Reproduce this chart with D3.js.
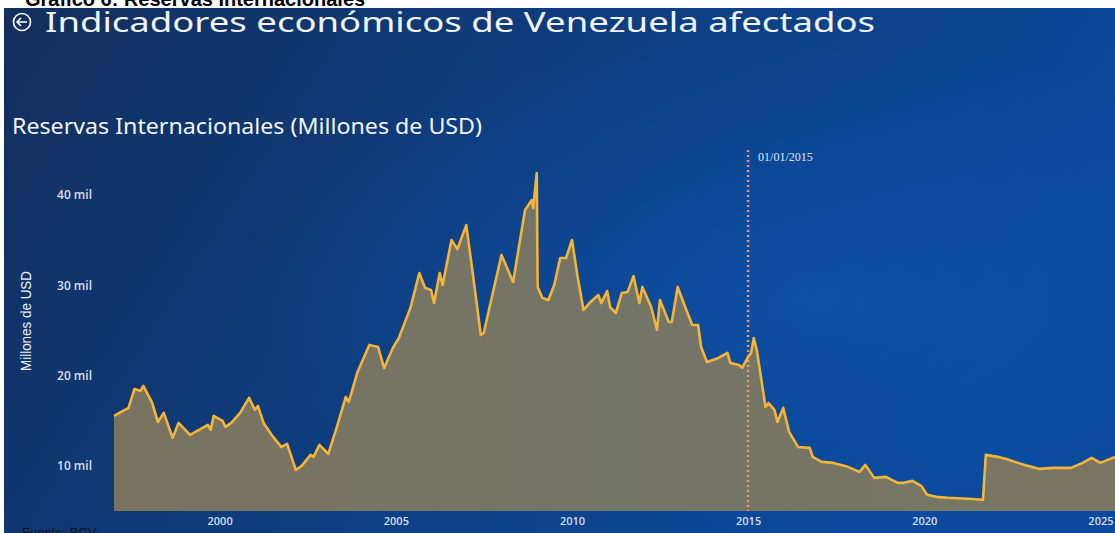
<!DOCTYPE html>
<html>
<head>
<meta charset="utf-8">
<script src="https://cdn.jsdelivr.net/npm/d3@7"></script>
<style>
  html, body { margin: 0; padding: 0; background: #fff; }
  svg { display: block; }
</style>
</head>
<body>
<svg id="chart" width="1115" height="533"></svg>
<script>
// Reservas internacionales BCV, millones de USD
const dates = [
  "1997-01-01","1997-06-01","1997-08-01","1997-10-01","1997-11-01","1998-02-01","1998-04-01","1998-06-01",
  "1998-09-01","1998-11-01","1999-03-01","1999-09-01","1999-10-01","1999-11-01","2000-02-01","2000-03-01",
  "2000-05-01","2000-08-01","2000-11-01","2001-01-01","2001-02-01","2001-04-01","2001-07-01","2001-10-01",
  "2001-12-01","2002-03-01","2002-05-01","2002-08-01","2002-09-01","2002-11-01","2003-02-01","2003-05-01",
  "2003-08-01","2003-09-01","2003-12-01","2004-04-01","2004-07-01","2004-09-01","2004-12-01","2005-02-01",
  "2005-06-01","2005-09-01","2005-11-01","2006-01-01","2006-02-01","2006-04-01","2006-05-01","2006-08-01",
  "2006-10-01","2007-01-01","2007-03-01","2007-06-01","2007-07-01","2008-01-01","2008-05-01","2008-09-01",
  "2008-11-10","2008-11-25","2009-01-01","2009-01-10","2009-03-01","2009-05-01","2009-07-01","2009-09-01",
  "2009-11-01","2010-01-01","2010-03-01","2010-05-01","2010-07-01","2010-10-01","2010-11-01","2011-01-01",
  "2011-02-01","2011-04-01","2011-06-01","2011-08-01","2011-10-01","2011-12-01","2012-01-01","2012-04-01",
  "2012-06-01","2012-07-01","2012-10-01","2012-11-01","2013-01-01","2013-04-01","2013-06-01","2013-08-01",
  "2013-09-01","2013-11-01","2014-03-01","2014-06-01","2014-07-01","2014-10-01","2014-11-01","2015-01-01",
  "2015-02-01","2015-03-01","2015-04-01","2015-07-01","2015-08-01","2015-10-01","2015-11-01","2016-01-01",
  "2016-03-01","2016-06-01","2016-10-01","2016-11-01","2017-02-01","2017-06-01","2017-11-01","2018-03-01",
  "2018-05-01","2018-08-01","2018-12-01","2019-04-01","2019-06-01","2019-09-01","2019-12-01","2020-02-01",
  "2020-05-01","2020-09-01","2021-04-01","2021-09-01","2021-10-01","2022-02-01","2022-05-01","2022-10-01",
  "2023-04-01","2023-09-01","2024-03-01","2024-07-01","2024-10-01","2025-01-01","2025-06-01"
];
const reservas = [
  15540,16420,18520,18300,18860,16970,14870,15870,
  13100,14760,13430,14540,13990,15540,14980,14320,
  14760,15870,17530,16200,16640,14760,13320,12100,
  12440,9560,10000,11220,11000,12320,11330,14320,
  17640,17090,20410,23400,23170,20850,23060,24170,
  27490,31370,29710,29480,28040,31370,30040,35020,
  34020,36680,32030,24500,24720,33360,30370,38340,
  39450,38560,42440,29820,28600,28380,30040,33030,
  33030,35020,30920,27270,28040,28930,28040,29370,
  27600,26940,29150,29260,31030,28040,29820,27600,
  25060,28380,25940,25940,29820,27270,25610,25610,
  23170,21510,21960,22510,21400,21180,20850,22070,
  22510,24170,22840,16530,16970,16200,14870,16420,
  13760,12100,11990,11000,10440,10330,9890,9340,
  10110,8670,8780,8120,8120,8340,7790,6790,
  6570,6460,6350,6240,11220,11000,10770,10220,
  9670,9780,9780,10330,10890,10330,11000
];
const yTicks = [10000, 20000, 30000, 40000];
const xTickYears = [2000, 2005, 2010, 2015, 2020, 2025];
const markerDate = "2015-01-01";
const markerLabel = "01/01/2015";

const parse = d3.timeParse("%Y-%m-%d");
const series = dates.map((d, i) => ({ date: parse(d), value: reservas[i] }));

const svg = d3.select("#chart");
const W = 1115, H = 533;

// fondo
const defs = svg.append("defs");
const bg = defs.append("linearGradient").attr("id", "bg").attr("x1", 0).attr("x2", 1).attr("y1", 0).attr("y2", 0.3);
bg.append("stop").attr("offset", "0%").attr("stop-color", "#132f5c");
bg.append("stop").attr("offset", "45%").attr("stop-color", "#0e3c7c");
bg.append("stop").attr("offset", "100%").attr("stop-color", "#0a4a9c");

const glow = defs.append("radialGradient").attr("id", "glow").attr("cx", 0.72).attr("cy", 0.55).attr("r", 0.5);
glow.append("stop").attr("offset", "0%").attr("stop-color", "#0d55b0").attr("stop-opacity", 0.6);
glow.append("stop").attr("offset", "100%").attr("stop-color", "#0d55b0").attr("stop-opacity", 0);

const fillGrad = defs.append("linearGradient").attr("id", "areaFill").attr("x1", 0).attr("x2", 1);
fillGrad.append("stop").attr("offset", "0%").attr("stop-color", "#7a7360");
fillGrad.append("stop").attr("offset", "50%").attr("stop-color", "#737567");
fillGrad.append("stop").attr("offset", "100%").attr("stop-color", "#7a7663");

svg.append("rect").attr("x", 4).attr("y", 8).attr("width", W - 4).attr("height", H - 8).attr("fill", "url(#bg)");
svg.append("rect").attr("x", 4).attr("y", 8).attr("width", W - 4).attr("height", H - 8).attr("fill", "url(#glow)");

// cabecera recortada del documento
svg.append("text")
  .attr("x", 25).attr("y", 6)
  .attr("font-family", "Liberation Sans, Arial, sans-serif")
  .attr("font-weight", "bold").attr("font-size", 20)
  .attr("fill", "#000")
  .text("Gráfico 6: Reservas Internacionales");

// icono volver
const icon = svg.append("g").attr("transform", "translate(22,22)")
  .attr("fill", "none").attr("stroke", "#fff").attr("stroke-width", 1.6);
icon.append("circle").attr("r", 8.5);
icon.append("path").attr("d", "M5,0 H-5 M-1,-4 L-5,0 L-1,4");

svg.append("text")
  .attr("x", 45).attr("y", 32)
  .attr("font-family", "Noto Sans, Open Sans, sans-serif")
  .attr("font-size", 28).attr("fill", "#f2f4f8")
  .attr("textLength", 830).attr("lengthAdjust", "spacingAndGlyphs")
  .text("Indicadores económicos de Venezuela afectados");

svg.append("text")
  .attr("x", 12).attr("y", 134)
  .attr("font-family", "Noto Sans, Open Sans, sans-serif")
  .attr("font-size", 22).attr("fill", "#f2f4f8")
  .attr("textLength", 470).attr("lengthAdjust", "spacingAndGlyphs")
  .text("Reservas Internacionales (Millones de USD)");

// escalas
const x = d3.scaleTime()
  .domain([parse("1997-01-01"), parse("2025-06-01")])
  .range([114, 1115]);
const y = d3.scaleLinear().domain([5000, 45000]).range([511, 150]);

const area = d3.area()
  .x(d => x(d.date)).y0(y(5000)).y1(d => y(d.value));
const line = d3.line()
  .x(d => x(d.date)).y(d => y(d.value));

svg.append("path").datum(series).attr("d", area).attr("fill", "url(#areaFill)");

// marcador 2015
const mx = x(parse(markerDate));
svg.append("line")
  .attr("x1", mx).attr("x2", mx).attr("y1", 150).attr("y2", 511)
  .attr("stroke", "#f39078").attr("stroke-width", 2.5)
  .attr("stroke-dasharray", "2,3");
svg.append("text")
  .attr("x", mx + 10).attr("y", 161)
  .attr("font-family", "Liberation Serif, serif")
  .attr("font-size", 12).attr("fill", "#dfe6f2")
  .text(markerLabel);

svg.append("path").datum(series).attr("d", line)
  .attr("fill", "none").attr("stroke", "#f6b437").attr("stroke-width", 2.6)
  .attr("stroke-linejoin", "round");

// ejes
const yAxis = svg.append("g").attr("transform", "translate(92,0)")
  .call(d3.axisLeft(y).tickValues(yTicks).tickSize(0).tickFormat(d => d / 1000 + " mil"));
yAxis.select(".domain").remove();
yAxis.selectAll("text")
  .attr("font-family", "Open Sans, sans-serif").attr("font-weight", 600)
  .attr("font-size", 12).attr("fill", "#d7dfec").attr("x", 0);

const xAxis = svg.append("g").attr("transform", "translate(0,512)")
  .call(d3.axisBottom(x).tickValues(xTickYears.map(yr => new Date(yr, 0, 1)))
    .tickSize(0).tickFormat(d3.timeFormat("%Y")));
xAxis.select(".domain").remove();
xAxis.selectAll("text")
  .attr("font-family", "Open Sans, sans-serif").attr("font-weight", 600)
  .attr("font-size", 11).attr("fill", "#d7dfec").attr("dy", "0.9em");

svg.append("text")
  .attr("transform", "translate(31,321) rotate(-90)")
  .attr("text-anchor", "middle")
  .attr("font-family", "Liberation Sans Narrow, Arial Narrow, sans-serif")
  .attr("font-size", 14).attr("fill", "#eef2f8")
  .attr("textLength", 100).attr("lengthAdjust", "spacingAndGlyphs")
  .text("Millones de USD");

svg.append("text")
  .attr("x", 22).attr("y", 537)
  .attr("font-family", "Liberation Sans, Arial, sans-serif")
  .attr("font-size", 13).attr("fill", "#0a0f1e")
  .text("Fuente: BCV");
</script>
</body>
</html>
